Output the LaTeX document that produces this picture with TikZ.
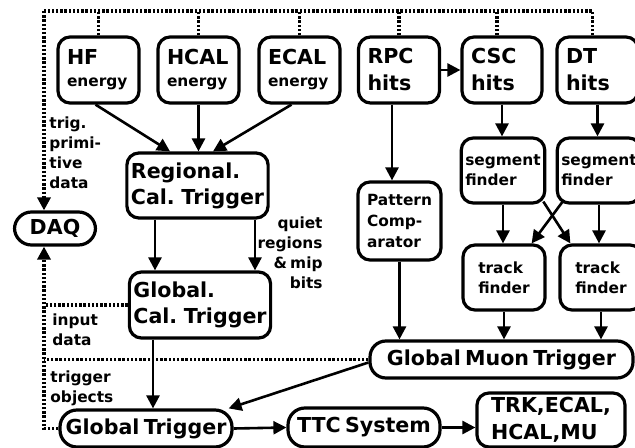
\documentclass[tikz,border=0pt]{standalone}
\usepackage{fontspec}
\setmainfont{DejaVu Sans}[WordSpace=0.6]
\usepackage{tikz}
\usetikzlibrary{arrows.meta,positioning}
\newcommand\bigfnt{\fontsize{10.3}{13}\selectfont\bfseries}
\newcommand\smlfnt{\fontsize{7.7}{10}\selectfont\bfseries}

\begin{document}
\begin{tikzpicture}[x=0.5pt,y=-0.5pt,
  box/.style={draw,line width=1.6pt,rounded corners=6pt,align=left,inner sep=2pt,font=\smlfnt},
  topbox/.style={box,text width=31.5pt,inner xsep=4.5pt,minimum height=33pt,font=\bigfnt},
  pill/.style={box,rounded corners=8.5pt,font=\bigfnt},
  arr/.style={-{Triangle[length=6.5pt,width=6.5pt]},line width=1.3pt},
  dotline/.style={line width=1.7pt,dash pattern=on 1.2pt off 0.9pt},
  dotarr/.style={dotline,-{Triangle[length=6.5pt,width=6.5pt]}},
  lbl/.style={inner sep=0pt,align=left,font=\smlfnt}]
\useasboundingbox (0,0) rectangle (635,448);
% detector inputs
\node[topbox] (hf) at (98.5,70) {HF\\[-2pt]{\smlfnt energy}};
\node[topbox] (hcal) at (198.5,70) {HCAL\\[-2pt]{\smlfnt energy}};
\node[topbox] (ecal) at (299.5,70) {ECAL\\[-2pt]{\smlfnt energy}};
\node[topbox] (rpc) at (399,70) {RPC\\[0.5pt]hits};
\node[topbox,text width=31pt] (csc) at (502,70) {CSC\\[0.5pt]hits};
\node[topbox] (dt) at (597.5,70) {DT\\[0.5pt]hits};
% calorimeter trigger
\node[box,font=\bigfnt,minimum width=69.5pt,minimum height=32.5pt] (reg) at (197.5,185.5) {Regional.\\Cal. Trigger};
\node[box,font=\bigfnt,minimum width=70pt,minimum height=33pt] (gcal) at (200,305) {Global.\\Cal. Trigger};
\node[pill,minimum width=40.5pt,minimum height=16.5pt] (daq) at (55,228.5) {DAQ};
% muon trigger
\node[box,minimum width=41.5pt,minimum height=39pt] (pat) at (399.5,221) {Pattern\\[0.5pt]Comp-\\[0.5pt]arator};
\node[box,minimum width=40pt,minimum height=32.5pt] (seg1) at (503,170.5) {segment\\finder};
\node[box,minimum width=40pt,minimum height=32.5pt] (seg2) at (599,170.5) {segment\\finder};
\node[box,minimum width=41pt,minimum height=32.5pt] (trk1) at (504,277.5) {track\\finder};
\node[box,minimum width=41pt,minimum height=32.5pt] (trk2) at (601,277.5) {track\\finder};
\node[pill,rounded corners=8pt,minimum width=131.5pt,minimum height=18.5pt] (gmt) at (501.5,359.5) {Global Muon Trigger};
% global trigger and distribution
\node[pill,minimum width=86pt,minimum height=18.5pt] (gt) at (146,428.5) {Global Trigger};
\node[pill,minimum width=76pt,minimum height=19.5pt] (ttc) at (364,427.5) {TTC System};
\node[box,font=\bigfnt,minimum width=74pt,minimum height=27pt,inner ysep=0pt] (det) at (551,420) {TRK,ECAL,\\[0.5pt]HCAL,MU};
% labels
\node[lbl,anchor=north west] (trigl) at (49,116.5) {trig.\\primi-\\tive\\data};
\node[lbl,anchor=north west] (inl) at (52,313.5) {input\\data};
\node[lbl,anchor=north west] (objl) at (50,370.5) {trigger\\objects};
\node[lbl,anchor=north east,align=right] (quietl) at (323,216) {quiet\\regions\\\& mip\\bits};
% readout (dotted)
\coordinate (tl) at (44,11);
\draw[dotline] ([xshift=-2.5pt]dt.north) |- (tl);
\draw[dotarr] (tl) -- (tl |- daq.north);
\foreach \n in {hf,hcal,ecal,rpc}
  \draw[dotline] (\n.north) -- (\n.north |- tl);
\draw[dotline] ([xshift=-2.5pt]csc.north) -- ([xshift=-2.5pt]csc.north |- tl);
\draw[dotarr] (gt.west) -| (tl |- daq.south);
\draw[dotline] (gcal.west) -- (gcal.west -| tl);
\draw[dotline] (gmt.west) -- (gmt.west -| tl);
% data flow
\draw[arr] ([xshift=-1.5pt]hf.south) -- ([xshift=-13.75pt]reg.north);
\draw[arr] (hcal.south) -- (hcal.south |- reg.north);
\draw[arr] ([xshift=-4pt]ecal.south) -- ([xshift=7.75pt]reg.north);
\draw[arr] ([xshift=-21.25pt]reg.south) -- ([xshift=-21.25pt]reg.south |- gcal.north);
\draw[arr] ([xshift=28.75pt]reg.south) -- ([xshift=28.75pt]reg.south |- gcal.north);
\draw[arr] ([xshift=-23.5pt]gcal.south) -- ([xshift=-23.5pt]gcal.south |- gt.north);
\draw[arr] (rpc.east) -- (csc.west);
\draw[arr] ([xshift=-3.5pt]rpc.south) -- ([xshift=-3.5pt]rpc.south |- pat.north);
\draw[arr] (csc.south) -- (csc.south |- seg1.north);
\draw[arr] (dt.south) -- (dt.south |- seg2.north);
\draw[arr] (seg1.south) -- (seg1.south |- trk1.north);
\draw[arr] (seg2.south) -- (seg2.south |- trk2.north);
\draw[arr] ([xshift=-1.5pt,yshift=1.5pt]seg1.south east) -- ([xshift=6pt]trk2.north west);
\draw[arr] ([xshift=3.5pt,yshift=1.5pt]seg2.south west) -- ([xshift=-7.5pt]trk1.north east);
\draw[arr] (pat.south) -- (pat.south |- gmt.north);
\draw[arr] (trk1.south) -- (trk1.south |- gmt.north);
\draw[arr] (trk2.south) -- (trk2.south |- gmt.north);
\draw[arr] ([yshift=-1.5pt]gmt.west) -- ([xshift=-2.5pt]gt.north east);
\draw[arr] (gt.east) -- (ttc.west);
\draw[arr] (ttc.east) -- (ttc.east -| det.west);
\end{tikzpicture}
\end{document}
